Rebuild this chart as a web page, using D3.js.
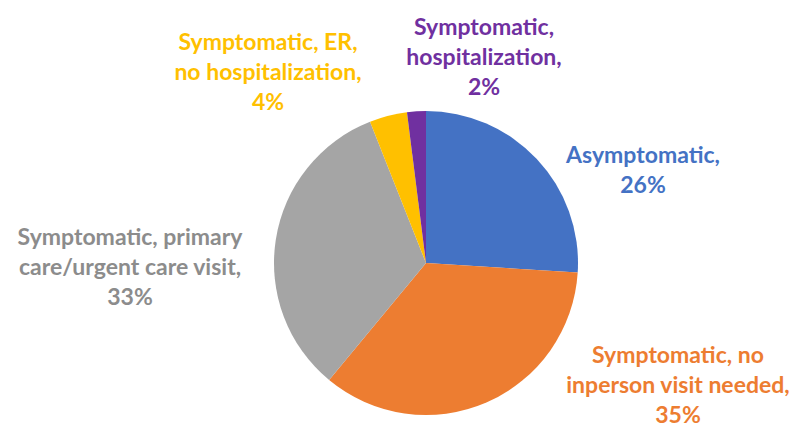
<!DOCTYPE html>
<html>
<head>
<meta charset="utf-8">
<script src="https://cdn.jsdelivr.net/npm/d3@7"></script>
<style>
  body { margin: 0; background: #fff; }
  svg text { font-family: Lato, "Open Sans", sans-serif; font-weight: bold; }
</style>
</head>
<body>
<svg id="chart"></svg>
<script>
// slice data, clockwise from 12 o'clock
const categories = ["Asymptomatic", "Symptomatic, no inperson visit needed",
  "Symptomatic, primary care/urgent care visit", "Symptomatic, ER, no hospitalization",
  "Symptomatic, hospitalization"];
const values = [26, 35, 33, 4, 2];
const colors = ["#4472C4", "#ED7D31", "#A5A5A5", "#FFC000", "#7030A0"];
// label lines as laid out in the picture
const labelLines = [
  ["Asymptomatic,", "26%"],
  ["Symptomatic, no", "inperson visit needed,", "35%"],
  ["Symptomatic, primary", "care/urgent care visit,", "33%"],
  ["Symptomatic, ER,", "no hospitalization,", "4%"],
  ["Symptomatic,", "hospitalization,", "2%"]
];
// label anchor (centre x, first baseline), in px
const labelPos = [[643, 163], [678, 363], [130, 245], [268, 50], [484, 35]];

const width = 794, height = 432;
const cx = 426, cy = 263, radius = 152;
const lineH = 30;

const svg = d3.select("#chart")
  .attr("width", width)
  .attr("height", height);

const pie = d3.pie().sort(null).value(d => d);
const arc = d3.arc().innerRadius(0).outerRadius(radius);
const color = d3.scaleOrdinal().domain(categories).range(colors);

const g = svg.append("g").attr("transform", `translate(${cx},${cy})`);
g.selectAll("path")
  .data(pie(values))
  .enter().append("path")
  .attr("d", arc)
  .attr("fill", (d, i) => color(categories[i]));

// labels, gray text a touch darker than its slice
const labels = svg.selectAll("text.lbl")
  .data(labelLines)
  .enter().append("text")
  .attr("class", "lbl")
  .attr("text-anchor", "middle")
  .style("font-size", "23px")
  .attr("fill", (d, i) => i == 2 ? "#8C8C8C" : color(categories[i]));

labels.selectAll("tspan")
  .data((d, i) => d.map(t => ({t, i})))
  .enter().append("tspan")
  .attr("x", d => labelPos[d.i][0])
  .attr("y", (d, j) => labelPos[d.i][1] + j * lineH)
  .text(d => d.t);
</script>
</body>
</html>
